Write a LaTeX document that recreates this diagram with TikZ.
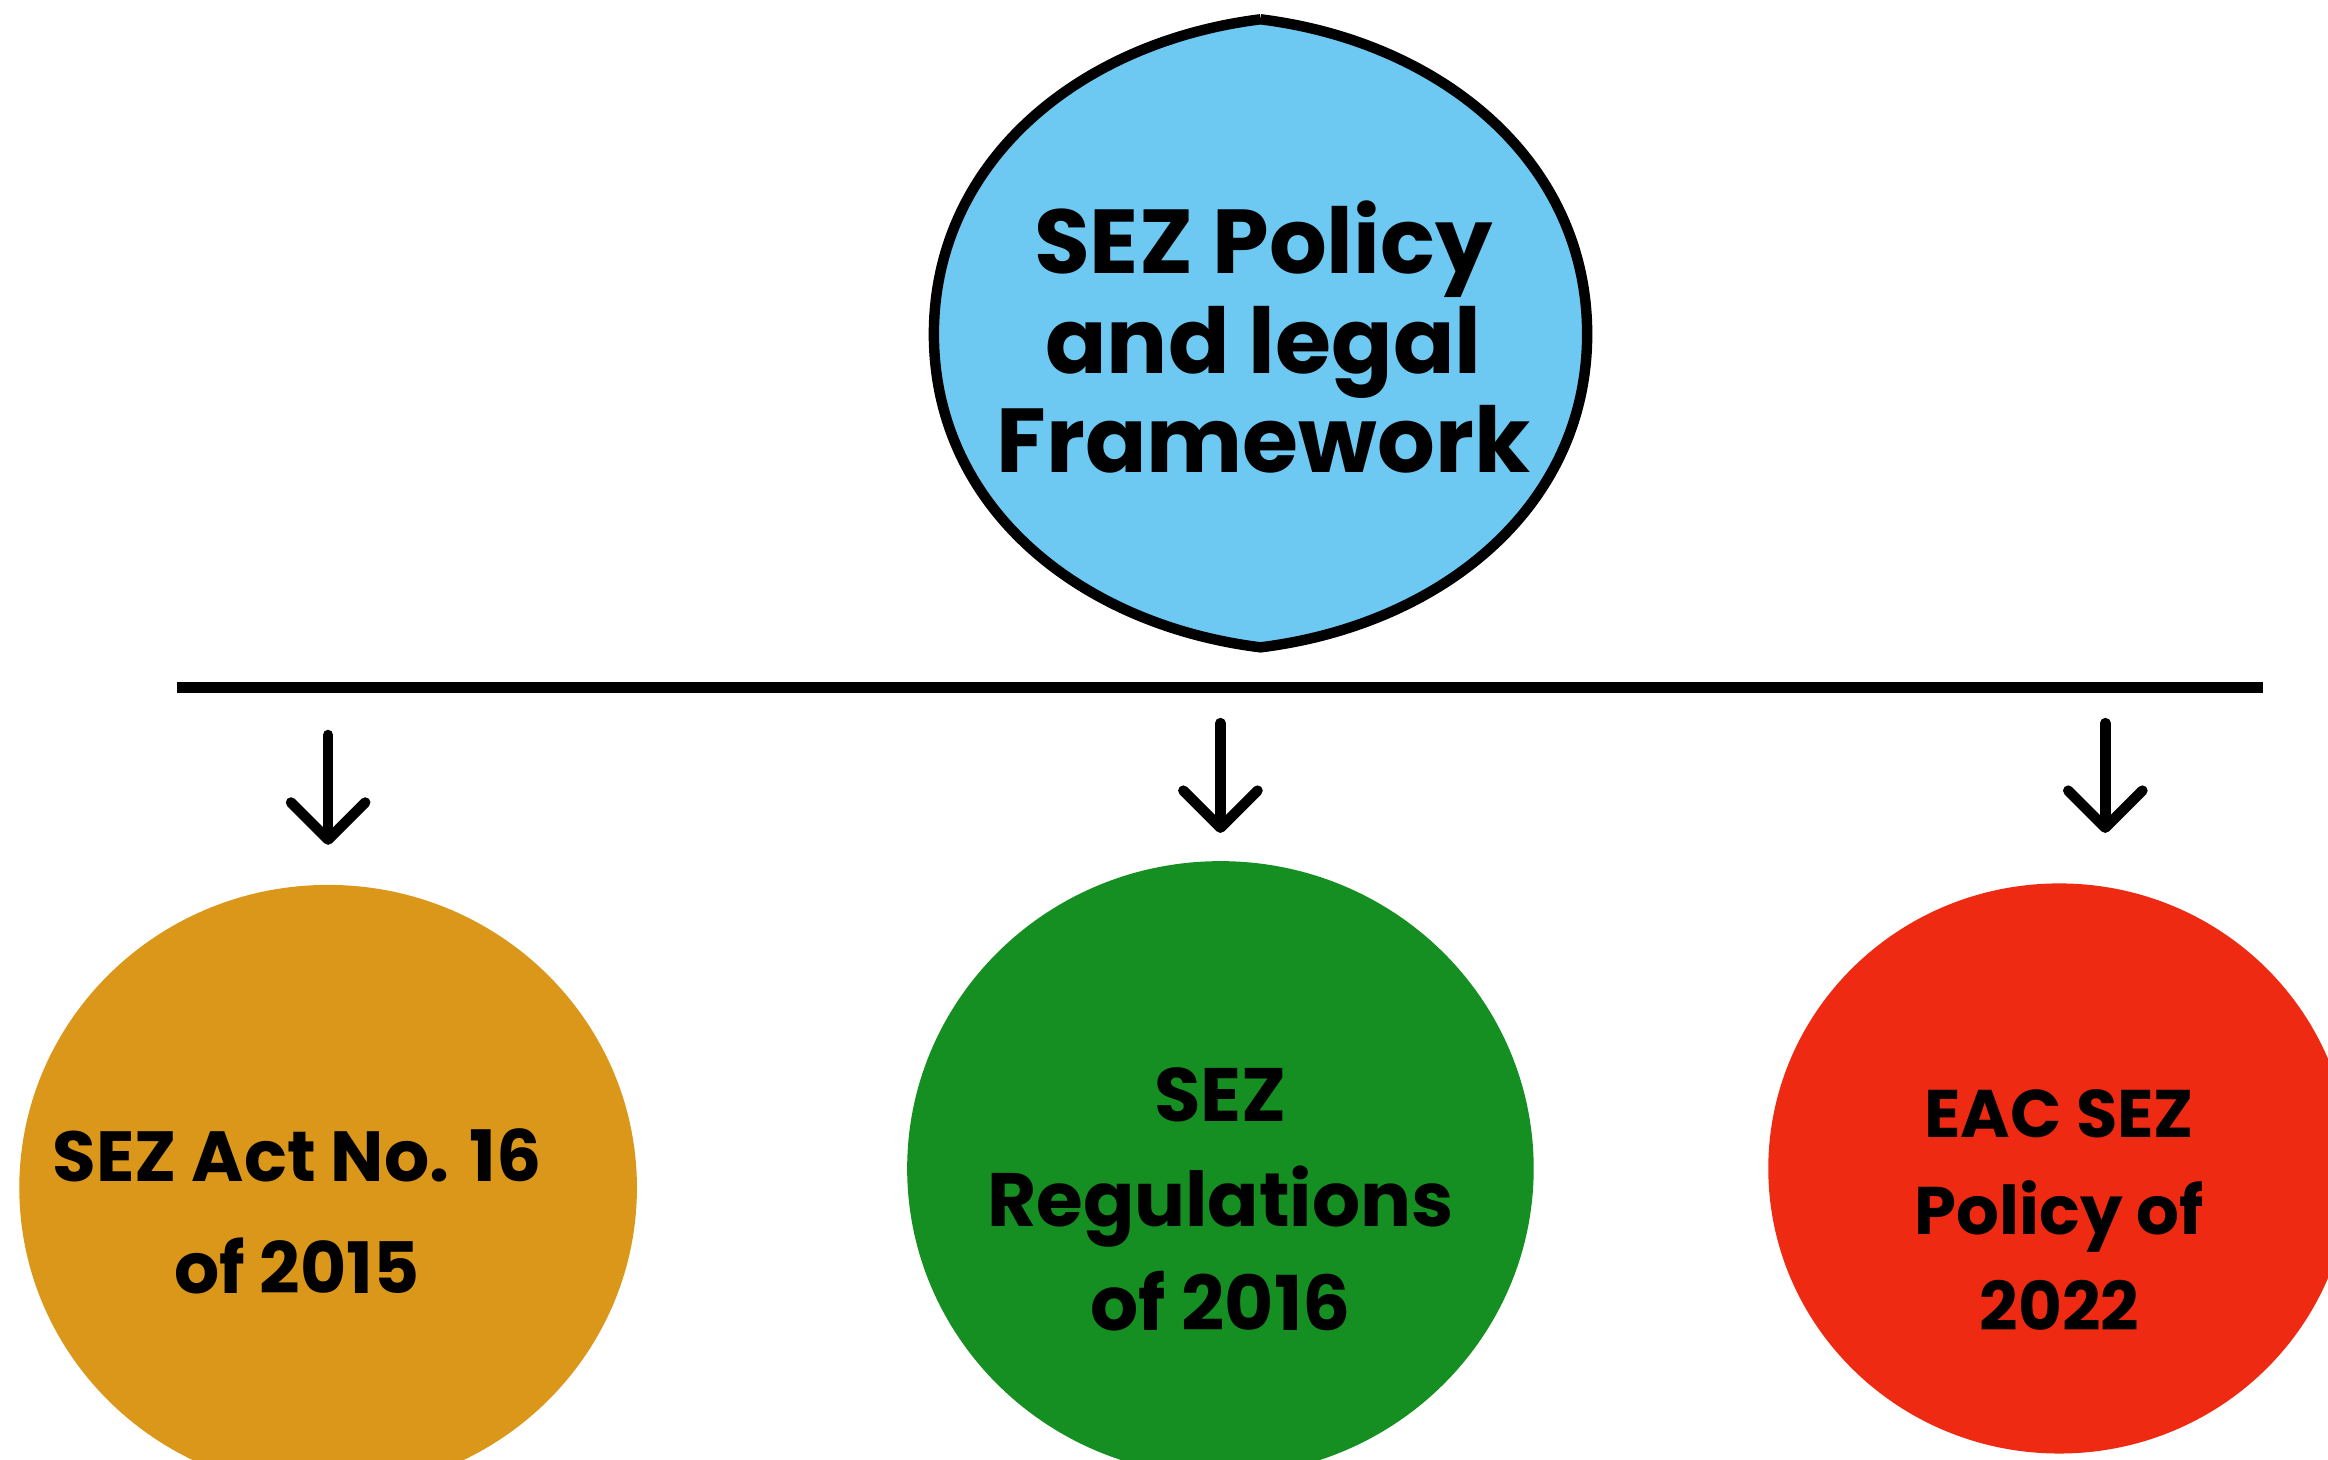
\documentclass[tikz,border=0pt]{standalone}
\usepackage{fontspec}
\setmainfont{Poppins}
\usetikzlibrary{shapes.geometric,arrows.meta}

\definecolor{skyblue}{HTML}{6DC9F2}
\definecolor{ochre}{HTML}{DA9719}
\definecolor{leafgreen}{HTML}{168F22}
\definecolor{flamered}{HTML}{EE2A12}

\tikzset{
  law/.style={shape=ellipse,inner sep=0pt},
  lawtext/.style={align=center,font=\bfseries\fontsize{13.6}{21.5}\selectfont},
  down/.style={line width=2pt,line cap=round,-{Straight Barb[round,length=2.5mm,width=5mm,line width=2pt]}}
}

\begin{document}
\begin{tikzpicture}
	    \useasboundingbox (0,0) rectangle (15.68,9.83);
	    \clip (0,0) rectangle (15.68,9.83);

	    % top shape with pointed ends
	    \coordinate (T) at (8.49,9.70);
	    \coordinate (L) at (6.29,7.58);
	    \coordinate (B) at (8.49,5.47);
	    \coordinate (R) at (10.69,7.58);
	    \draw[line width=2pt,fill=skyblue] (T) .. controls (7.28,9.55) and (6.29,8.75) .. (L)
	        .. controls (6.29,6.41) and (7.28,5.62) .. (B)
	        .. controls (9.70,5.62) and (10.69,6.41) .. (R)
	        .. controls (10.69,8.75) and (9.70,9.55) .. (T);
	    \node[align=center,font=\bfseries\fontsize{17.4}{19}\selectfont] (top) at (8.51,7.56) {SEZ Policy\\and legal\\Framework};

	    \coordinate (P) at (1.19,5.20);
	    \coordinate (Q) at (15.24,5.20);
	    \draw[line width=2pt] (P) -- (Q);

	    \node[law,fill=ochre,minimum width=4.16cm,minimum height=4.08cm] (A) at (2.21,1.83) {};
	    \node[law,fill=leafgreen,minimum width=4.22cm,minimum height=4.14cm] (G) at (8.22,1.96) {};
	    \node[law,fill=flamered,minimum width=3.92cm,minimum height=3.84cm] (E) at (13.87,1.96) {};

	    \node[lawtext] (At) at (2.00,1.67) {SEZ Act No. 16\\of 2015};
	    \node[lawtext,font=\bfseries\fontsize{14.5}{20}\selectfont] (Gt) at (8.22,1.75) {SEZ\\Regulations\\of 2016};
	    \node[lawtext,font=\bfseries\fontsize{12.9}{18.5}\selectfont] (Et) at (13.87,1.68) {EAC SEZ\\Policy of\\2022};

	    \coordinate (a1) at (2.21,4.88);
	    \coordinate (a2) at (2.21,4.14);
	    \coordinate (g1) at (8.22,4.96);
	    \coordinate (g2) at (8.22,4.22);
	    \coordinate (e1) at (14.18,4.96);
	    \coordinate (e2) at (14.18,4.22);

	    \path [down] (a1) edge (a2);
	    \path [down] (g1) edge (g2);
	    \path [down] (e1) edge (e2);
	\end{tikzpicture}
\end{document}
